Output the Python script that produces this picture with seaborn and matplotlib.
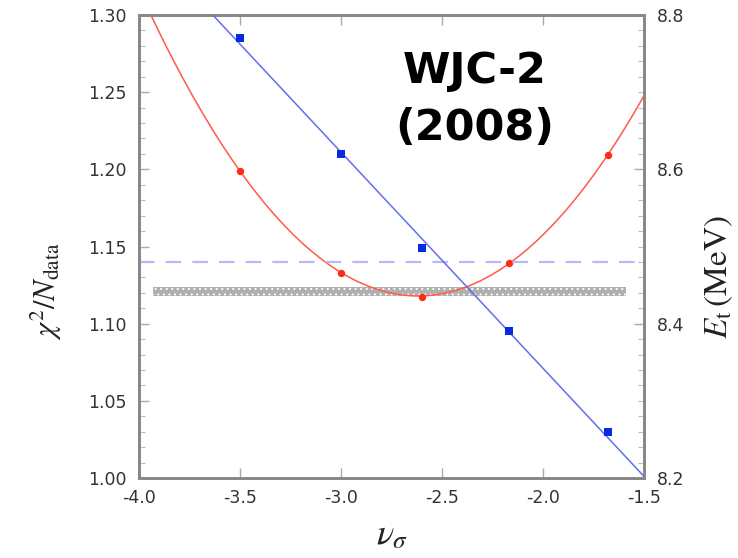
import numpy as np
import pandas as pd
import matplotlib
matplotlib.use("Agg")
import matplotlib.pyplot as plt
from matplotlib.ticker import MultipleLocator, FormatStrFormatter
import seaborn as sns

# nu_sigma values of the model variants
nu_sigma = [-3.5, -3.0, -2.6, -2.17, -1.68]
# chi^2 per datum (left axis)
chi2_ndata = [1.199, 1.133, 1.1175, 1.1395, 1.209]
# triton binding energy in MeV (right axis)
e_triton = [8.770, 8.620, 8.498, 8.390, 8.259]
# experimental triton binding energy (dashed line)
e_triton_exp = 8.48
# shaded chi^2 band
chi2_band = [1.118, 1.1235]
band_range = [-3.93, -1.59]

xticks = [-4.0, -3.5, -3.0, -2.5, -2.0, -1.5]
chi2_ticks = [1.00, 1.05, 1.10, 1.15, 1.20, 1.25, 1.30]
e_ticks = [8.2, 8.4, 8.6, 8.8]

sns.set_theme(style="white")
plt.rcParams["font.family"] = ["DejaVu Sans"]
plt.rcParams["mathtext.fontset"] = "stix"
plt.rcParams["hatch.color"] = "white"
plt.rcParams["hatch.linewidth"] = 0.7

df = pd.DataFrame({"nu": nu_sigma, "chi2": chi2_ndata, "et": e_triton})

# quadratic fit for chi^2 and linear fit for E_t
xf = np.linspace(-4.0, -1.5, 400)
chi2_fit = np.polyval(np.polyfit(df.nu, df.chi2, 2), xf)
et_fit = np.polyval(np.polyfit(df.nu, df.et, 1), xf)
fit = pd.DataFrame({"nu": xf, "chi2": chi2_fit, "et": et_fit})

fig = plt.figure(figsize=(7.38, 5.58), dpi=100)
ax = fig.add_axes([139 / 738, 1 - 478 / 558, (644 - 139) / 738, (478 - 15) / 558])
ax2 = ax.twinx()

spine_col = "#888888"
tick_col = "#333333"

# shaded band
ax.fill_between(band_range, chi2_band[0], chi2_band[1], facecolor="#b0b0b0",
                edgecolor="white", hatch="...", linewidth=0, zorder=1)

# experimental E_t
ax2.axhline(e_triton_exp, color="#b8b8f4", lw=1.6, dashes=(7, 5), zorder=1)

sns.lineplot(data=fit, x="nu", y="chi2", ax=ax, color="#ff5a4a", lw=1.1, zorder=3)
sns.scatterplot(data=df, x="nu", y="chi2", ax=ax, color="#ff2a10", marker="o",
                s=28, linewidth=0, zorder=4)
sns.lineplot(data=fit, x="nu", y="et", ax=ax2, color="#6070ec", lw=1.1, zorder=3)
sns.scatterplot(data=df, x="nu", y="et", ax=ax2, color="#0a2ae0", marker="s",
                s=30, linewidth=0, zorder=4)

ax.set_xlim(-4.0, -1.5)
ax.set_ylim(1.0, 1.3)
ax2.set_ylim(8.2, 8.8)

ax.set_xticks(xticks)
ax.xaxis.set_major_formatter(FormatStrFormatter("%.1f"))
ax.set_yticks(chi2_ticks)
ax.yaxis.set_major_formatter(FormatStrFormatter("%.2f"))
ax.yaxis.set_minor_locator(MultipleLocator(0.01))
ax2.set_yticks(e_ticks)
ax2.yaxis.set_major_formatter(FormatStrFormatter("%.1f"))
ax2.yaxis.set_minor_locator(MultipleLocator(0.02))

ax.tick_params(axis="x", which="major", direction="in", length=7, width=1,
               color="#aaaaaa", top=True, bottom=True, labelsize=12.5,
               labelcolor=tick_col, pad=8)
ax.tick_params(axis="y", which="major", direction="in", length=7, width=1,
               color="#aaaaaa", left=True, right=False, labelsize=12.5,
               labelcolor=tick_col, pad=9)
ax.tick_params(axis="y", which="minor", direction="in", length=4, width=0.8,
               color="#bbbbbb", left=True)
ax2.tick_params(axis="y", which="major", direction="in", length=7, width=1,
                color="#aaaaaa", labelsize=12.5, labelcolor=tick_col, pad=9)
ax2.tick_params(axis="y", which="minor", direction="in", length=4, width=0.8,
                color="#bbbbbb")

for a in (ax, ax2):
    for s in a.spines.values():
        s.set_color(spine_col)
        s.set_linewidth(2)

ax.set_xlabel("")
ax.set_ylabel("")
ax2.set_ylabel("")

serif = ["STIXGeneral", "DejaVu Serif"]
fig.text(392 / 738, 1 - 536 / 558, r"$\nu_\sigma$", fontsize=26, color="#222222",
         fontfamily=serif, ha="center", va="center")
fig.text(46 / 738, 1 - 291 / 558, r"$\chi^2/N_{\rm data}$", fontsize=22,
         color="#222222", fontfamily=serif, rotation=90, ha="center", va="center")
fig.text(719 / 738, 1 - 277 / 558, r"$E_{\rm t}\,({\rm MeV})$", fontsize=24,
         color="#222222", fontfamily=serif, rotation=90, ha="center", va="center")

ax.text(0.665, 0.88, "WJC-2", transform=ax.transAxes, ha="center", va="center",
        fontsize=31, fontweight="bold", color="black", fontfamily="DejaVu Sans")
ax.text(0.665, 0.755, "(2008)", transform=ax.transAxes, ha="center", va="center",
        fontsize=31, fontweight="bold", color="black", fontfamily="DejaVu Sans")

fig.savefig("out.png", dpi=100)
